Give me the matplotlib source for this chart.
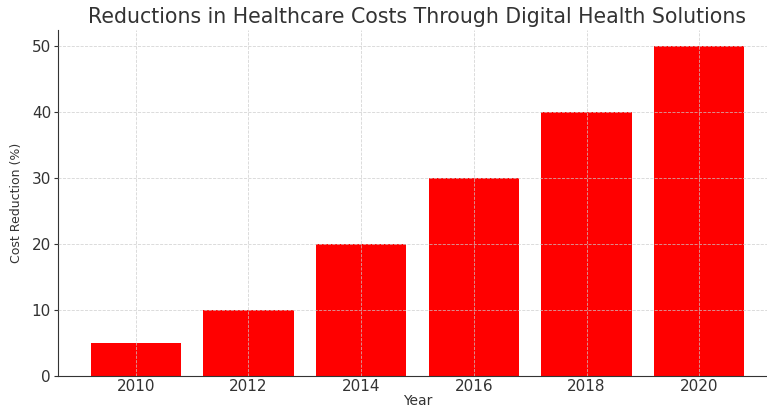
import matplotlib
matplotlib.use("Agg")
import matplotlib.pyplot as plt

years = [2010, 2012, 2014, 2016, 2018, 2020]
cost_reduction = [5, 10, 20, 30, 40, 50]
year_labels = ["2010", "2012", "2014", "2016", "2018", "2020"]

W, H = 767, 408
fig = plt.figure(figsize=(W / 100, H / 100), dpi=100)
# axes runs past the right edge of the picture, as in the reference
ax = fig.add_axes([58 / W, 1 - 376 / H, (777 - 58) / W, (376 - 30) / H])

ax.bar(years, cost_reduction, width=1.6, color="red", zorder=2)
ax.grid(True, linestyle="--", color="#cccccc", linewidth=0.6, alpha=0.8, zorder=3)
ax.set_axisbelow(False)

ax.set_xticks(years)
ax.set_xticklabels(year_labels)
ax.set_yticks([0, 10, 20, 30, 40, 50])
ax.tick_params(labelsize=11, colors="#333333", length=3, pad=2)
ax.tick_params(axis="x", length=0, pad=2)

ax.spines["top"].set_visible(False)
ax.spines["right"].set_visible(False)
ax.spines["left"].set_color("#333333")
ax.spines["bottom"].set_color("#333333")

ax.set_xlabel("Year", fontsize=10, color="#333333", labelpad=0)
ax.set_ylabel("Cost Reduction (%)", fontsize=9, color="#333333", labelpad=6)
ax.set_title("Reductions in Healthcare Costs Through Digital Health Solutions",
             fontsize=14.8, color="#333333", pad=5)

fig.savefig("out.png", dpi=100)
